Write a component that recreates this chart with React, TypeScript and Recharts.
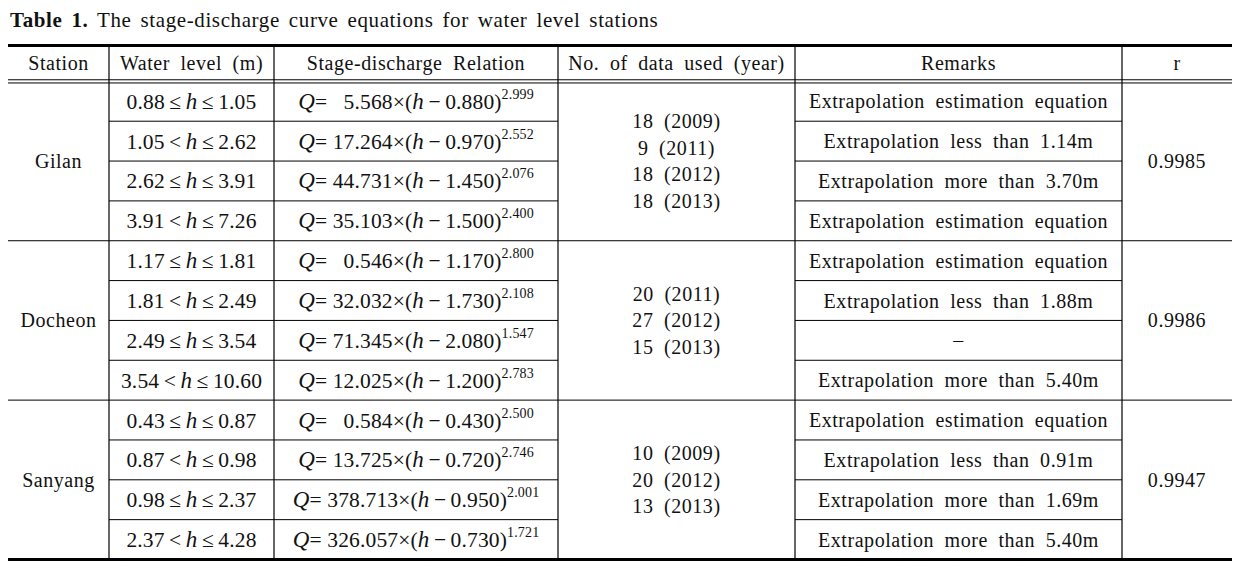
import { ComposedChart, Scatter, XAxis, YAxis, ReferenceLine } from 'recharts';

const headers = ['Station', 'Water level (m)', 'Stage-discharge Relation', 'No. of data used (year)', 'Remarks', 'r'];
const stations = ['Gilan', 'Docheon', 'Sanyang'];
const rValues = ['0.9985', '0.9986', '0.9947'];

// water level range per row: low (op) h ≤ high
const levelLow = [0.88, 1.05, 2.62, 3.91, 1.17, 1.81, 2.49, 3.54, 0.43, 0.87, 0.98, 2.37];
const levelOp = ['≤', '<', '≤', '<', '≤', '<', '≤', '<', '≤', '<', '≤', '<'];
const levelHigh = [1.05, 2.62, 3.91, 7.26, 1.81, 2.49, 3.54, 10.6, 0.87, 0.98, 2.37, 4.28];

// Q = a × (h − b)^c
const coefA = [5.568, 17.264, 44.731, 35.103, 0.546, 32.032, 71.345, 12.025, 0.584, 13.725, 378.713, 326.057];
const offsetB = [0.88, 0.97, 1.45, 1.5, 1.17, 1.73, 2.08, 1.2, 0.43, 0.72, 0.95, 0.73];
const exponentC = [2.999, 2.552, 2.076, 2.4, 2.8, 2.108, 1.547, 2.783, 2.5, 2.746, 2.001, 1.721];

const dataCounts = [[18, 9, 18, 18], [20, 27, 15], [10, 20, 13]];
const dataYears = [[2009, 2011, 2012, 2013], [2011, 2012, 2013], [2009, 2012, 2013]];

const remarks = [
  'Extrapolation estimation equation',
  'Extrapolation less than 1.14m',
  'Extrapolation more than 3.70m',
  'Extrapolation estimation equation',
  'Extrapolation estimation equation',
  'Extrapolation less than 1.88m',
  '–',
  'Extrapolation more than 5.40m',
  'Extrapolation estimation equation',
  'Extrapolation less than 0.91m',
  'Extrapolation more than 1.69m',
  'Extrapolation more than 5.40m',
];

// layout
const W = 1242;
const H = 574;
const colEdges = [8, 109, 274, 558, 795, 1122, 1232];
const ROWS = 4;
const HEAD_TOP = -0.9;
const FONT = "'Liberation Serif', 'DejaVu Serif', serif";
const colMid = (i: number) => (colEdges[i] + colEdges[i + 1]) / 2;

type Cell = { x: number; y: number; kind: string; text?: string; row?: number };

const cells: Cell[] = [];
headers.forEach((h, i) => cells.push({ x: colMid(i), y: HEAD_TOP / 2, kind: 'text', text: h }));
stations.forEach((s, g) => {
  const mid = g * ROWS + ROWS / 2;
  cells.push({ x: colMid(0), y: mid, kind: 'text', text: s });
  cells.push({ x: colMid(5), y: mid, kind: 'text', text: rValues[g] });
  const n = dataCounts[g].length;
  dataCounts[g].forEach((c, k) => {
    cells.push({ x: colMid(3), y: mid + (k - (n - 1) / 2) * 0.668, kind: 'text', text: `${c} (${dataYears[g][k]})` });
  });
});
levelLow.forEach((_, r) => {
  cells.push({ x: colMid(1), y: r + 0.5, kind: 'level', row: r });
  cells.push({ x: colMid(2), y: r + 0.5, kind: 'eq', row: r });
  cells.push({ x: colMid(4), y: r + 0.5, kind: 'text', text: remarks[r] });
});

type Seg = { x1: number; x2: number; y: number; w: number };
const hLines: Seg[] = [
  { x1: colEdges[0], x2: colEdges[6], y: HEAD_TOP, w: 3 },
  { x1: colEdges[0], x2: colEdges[6], y: -0.04, w: 1 },
  { x1: colEdges[0], x2: colEdges[6], y: 0.04, w: 1 },
  { x1: colEdges[0], x2: colEdges[6], y: ROWS, w: 1 },
  { x1: colEdges[0], x2: colEdges[6], y: ROWS * 2, w: 1 },
  { x1: colEdges[0], x2: colEdges[6], y: ROWS * 3, w: 3 },
];
stations.forEach((_, g) => {
  for (let k = 1; k < ROWS; k++) {
    hLines.push({ x1: colEdges[1], x2: colEdges[3], y: g * ROWS + k, w: 1 });
    hLines.push({ x1: colEdges[4], x2: colEdges[5], y: g * ROWS + k, w: 1 });
  }
});

const textStyle = { fontFamily: FONT, fontSize: 20, letterSpacing: 0.55, wordSpacing: 5 };
const mathStyle = { fontFamily: FONT, fontSize: 21.5, letterSpacing: 0.15 };

const renderCell = (props: any) => {
  const { cx, cy, payload } = props;
  const base = { x: cx, y: cy, dy: '0.35em', textAnchor: 'middle' as const, fill: '#111' };
  if (payload.kind === 'level') {
    const r = payload.row;
    return (
      <text {...base} style={mathStyle}>
        {`${levelLow[r].toFixed(2)}\u2009${levelOp[r]}\u2009`}
        <tspan fontStyle="italic" fontSize={23}>h</tspan>
        {`\u2009≤\u2009${levelHigh[r].toFixed(2)}`}
      </text>
    );
  }
  if (payload.kind === 'eq') {
    const r = payload.row;
    const pad = coefA[r] < 10 ? '\u2007' : '';
    return (
      <text {...base} style={mathStyle}>
        <tspan fontStyle="italic" fontSize={23}>Q</tspan>
        {`= ${pad}${coefA[r].toFixed(3)}×(`}
        <tspan fontStyle="italic" fontSize={23}>h</tspan>
        {`\u2009−\u2009${offsetB[r].toFixed(3)})`}
        <tspan dy={-10} fontSize={14}>{exponentC[r].toFixed(3)}</tspan>
      </text>
    );
  }
  return <text {...base} style={textStyle}>{payload.text}</text>;
};

export default function App() {
  return (
    <div style={{ position: 'relative', width: W, height: H, background: '#fff' }}>
      <style>{'body{margin:0}'}</style>
      <div style={{ position: 'absolute', left: 10, top: 8, fontFamily: FONT, fontSize: 21, color: '#111', letterSpacing: 0.6, wordSpacing: 3.2 }}>
        <b>Table 1.</b> The stage-discharge curve equations for water level stations
      </div>
      <div style={{ position: 'absolute', left: 0, top: 0 }}>
        <ComposedChart width={W} height={H} margin={{ top: 45.5, right: 0, bottom: 14.5, left: 0 }}>
          <XAxis type="number" dataKey="x" domain={[0, W]} hide />
          <YAxis type="number" dataKey="y" domain={[HEAD_TOP, ROWS * 3]} reversed hide allowDataOverflow />
          {hLines.map((l, i) => (
            <ReferenceLine
              key={`h${i}`}
              segment={[{ x: l.x1, y: l.y }, { x: l.x2, y: l.y }]}
              stroke="#000"
              strokeWidth={l.w}
              ifOverflow="visible"
            />
          ))}
          {colEdges.slice(1, 6).map((x, i) => (
            <ReferenceLine
              key={`v${i}`}
              segment={[{ x, y: HEAD_TOP }, { x, y: ROWS * 3 }]}
              stroke="#000"
              strokeWidth={1.2}
              ifOverflow="visible"
            />
          ))}
          <Scatter data={cells} shape={renderCell} isAnimationActive={false} />
        </ComposedChart>
      </div>
    </div>
  );
}
